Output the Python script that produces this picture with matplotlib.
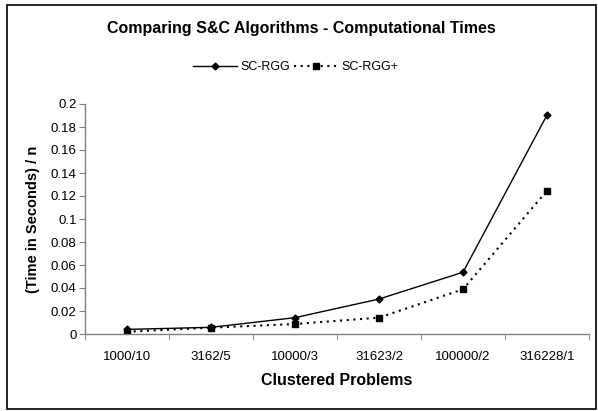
import matplotlib
matplotlib.use("Agg")
import matplotlib.pyplot as plt
from matplotlib.patches import Rectangle

categories = ["1000/10", "3162/5", "10000/3", "31623/2", "100000/2", "316228/1"]
sc_rgg = [0.004, 0.0058, 0.0142, 0.0304, 0.0537, 0.1904]
sc_rgg_plus = [0.002, 0.0055, 0.0087, 0.0142, 0.0389, 0.1246]
yticks = [0, 0.02, 0.04, 0.06, 0.08, 0.1, 0.12, 0.14, 0.16, 0.18, 0.2]
ytick_labels = ["0", "0.02", "0.04", "0.06", "0.08", "0.1", "0.12", "0.14", "0.16", "0.18", "0.2"]

plt.rcParams['font.family'] = ['Liberation Sans', 'DejaVu Sans']

fig = plt.figure(figsize=(5.98, 4.11), dpi=100)
fig.patches.append(Rectangle((7/598, 1-409/411), 589/598, 404/411, transform=fig.transFigure,
                             fill=False, edgecolor='black', linewidth=1.2))

ax = fig.add_axes([85/598, 1-334/411, 504/598, 230/411])
x = list(range(len(categories)))
ax.plot(x, sc_rgg, color='black', linewidth=1.0, marker='D', markersize=3.5, label='SC-RGG')
ax.plot(x, sc_rgg_plus, color='black', linewidth=1.5, linestyle=(0, (1, 2.2)),
        marker='s', markersize=5, label='SC-RGG+')

ax.set_xlim(-0.5, len(categories) - 0.5)
ax.set_ylim(0, 0.2)
ax.set_yticks(yticks)
ax.set_yticklabels(ytick_labels, fontsize=9.5)
ax.set_xticks(x)
ax.set_xticklabels(categories, fontsize=9.5)
ax.tick_params(axis='x', length=0, pad=12)
ax.set_xticks([i - 0.5 for i in range(len(categories) + 1)], minor=True)
ax.tick_params(axis='x', which='minor', length=4, direction='out', color='#808080')
ax.tick_params(axis='y', length=4, direction='out', color='#808080', pad=2)

for s in ['top', 'right']:
    ax.spines[s].set_visible(False)
for s in ['left', 'bottom']:
    ax.spines[s].set_color('#808080')
    ax.spines[s].set_linewidth(1.0)

ax.set_xlabel('Clustered Problems', fontsize=11.5, fontweight='bold')
ax.set_ylabel('(Time in Seconds) / n', fontsize=10.5, fontweight='bold')
ax.xaxis.set_label_coords(0.5, (334 - 380) / 230)
ax.yaxis.set_label_coords((33 - 85) / 504, 0.5)
ax.xaxis.label.set_va('center')
ax.yaxis.label.set_va('center')

fig.text(301/598, 1-29/411, 'Comparing S&C Algorithms - Computational Times', ha='center', va='center',
         fontsize=11.5, fontweight='bold')

fig.legend(loc='center', bbox_to_anchor=(296/598, 1-67/411), ncol=2, frameon=False, fontsize=9,
           handlelength=3.5, handletextpad=0.3, columnspacing=0.3, borderpad=0, borderaxespad=0)

fig.savefig('out.png', dpi=100)
